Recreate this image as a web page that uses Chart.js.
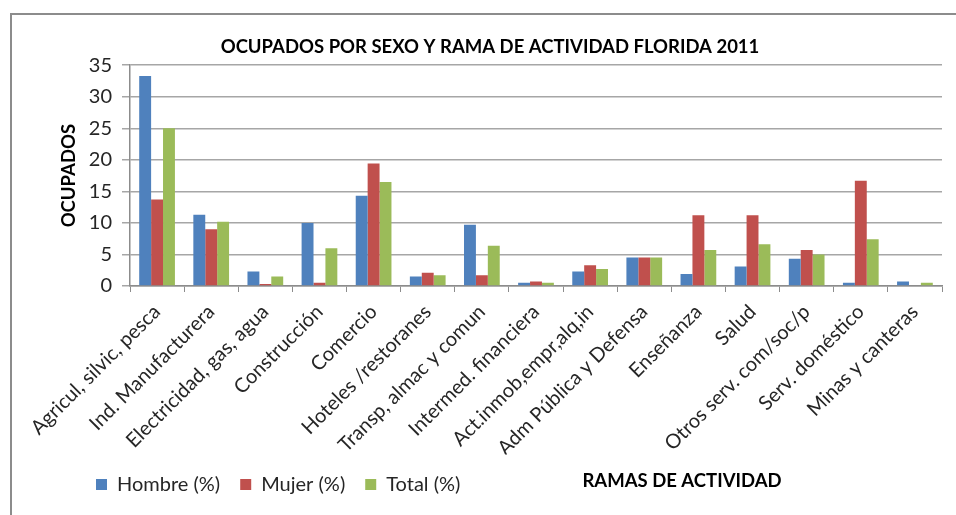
<!DOCTYPE html>
<html>
<head>
<meta charset="utf-8">
<title>Ocupados por sexo y rama de actividad</title>
<script src="https://cdn.jsdelivr.net/npm/chart.js@4.4.1/dist/chart.umd.min.js"></script>
<style>
  html, body { margin: 0; padding: 0; background: #fff; overflow: hidden; }
  #frame {
    position: absolute; left: 10px; top: 13px;
    width: 980px; height: 540px;
    border: 2px solid #8c8c8c; box-sizing: border-box;
  }
  #wrap { position: absolute; left: 12px; top: 16px; width: 956px; height: 520px; }
</style>
</head>
<body>
<div id="frame"></div>
<div id="wrap"><canvas id="chart"></canvas></div>
<script>
const ramas = [
  'Agricul, silvic, pesca', 'Ind. Manufacturera', 'Electricidad, gas, agua',
  'Construcción', 'Comercio', 'Hoteles /restoranes', 'Transp, almac y comun',
  'Intermed. financiera', 'Act.inmob,empr,alq,in', 'Adm Pública y Defensa',
  'Enseñanza', 'Salud', 'Otros serv. com/soc/p', 'Serv. doméstico', 'Minas y canteras'
];
const hombre = [33.3, 11.3, 2.3, 10.0, 14.3, 1.5, 9.7, 0.5, 2.3, 4.5, 1.9, 3.1, 4.3, 0.5, 0.7];
const mujer  = [13.7, 9.0, 0.3, 0.5, 19.4, 2.1, 1.7, 0.7, 3.3, 4.5, 11.2, 11.2, 5.7, 16.7, 0];
const total  = [25.0, 10.2, 1.5, 6.0, 16.5, 1.7, 6.4, 0.5, 2.7, 4.5, 5.7, 6.6, 5.0, 7.4, 0.5];
const yTicks = [0, 5, 10, 15, 20, 25, 30, 35];

const FONT = 'Lato, "Noto Sans", sans-serif';
const gridColor = '#a6a6a6';
const axisColor = '#8c8c8c';

// x axis title sits on the legend row, right of the legend
const ramasTitle = {
  id: 'ramasTitle',
  afterLayout(chart) {
    // push the legend to the right like in the original
    const lg = chart.legend;
    lg.left += 38;
    lg.right += 38;
  },
  afterDraw(chart) {
    const ctx = chart.ctx;
    const a = chart.chartArea;
    ctx.save();
    ctx.font = 'bold 18.5px ' + FONT;
    ctx.fillStyle = '#000';
    ctx.textAlign = 'center';
    ctx.textBaseline = 'middle';
    ctx.fillText('RAMAS DE ACTIVIDAD', a.left + 552, a.bottom + 195);
    ctx.restore();
  }
};

new Chart(document.getElementById('chart'), {
  type: 'bar',
  data: {
    labels: ramas,
    datasets: [
      { label: 'Hombre (%)', data: hombre, backgroundColor: '#4f81bd' },
      { label: 'Mujer (%)', data: mujer, backgroundColor: '#c0504d' },
      { label: 'Total (%)', data: total, backgroundColor: '#9bbb59' }
    ]
  },
  options: {
    responsive: true,
    maintainAspectRatio: false,
    animation: false,
    layout: { padding: { left: 26, right: 26, top: 0, bottom: 31.5 } },
    datasets: { bar: { categoryPercentage: 0.66, barPercentage: 1.0 } },
    plugins: {
      title: {
        display: true,
        text: 'OCUPADOS POR SEXO Y RAMA DE ACTIVIDAD FLORIDA 2011',
        color: '#000',
        font: { family: FONT, size: 18.5, weight: 'bold' },
        padding: { top: 20, bottom: 7 }
      },
      legend: {
        position: 'bottom',
        align: 'start',
        labels: {
          color: '#262626',
          font: { family: FONT, size: 20 },
          boxWidth: 11,
          boxHeight: 11,
          padding: 20
        }
      },
      tooltip: { enabled: false }
    },
    scales: {
      x: {
        grid: { display: true, drawOnChartArea: false, drawTicks: true, tickLength: 6, color: axisColor, offset: true },
        border: { display: true, color: axisColor, width: 1.5 },
        ticks: {
          color: '#262626',
          font: { family: FONT, size: 20 },
          maxRotation: 45, minRotation: 45,
          autoSkip: false,
          padding: 8
        },
        afterFit(scale) { scale.height = 168.5; }
      },
      y: {
        min: 0, max: 35,
        afterBuildTicks(scale) { scale.ticks = yTicks.map(v => ({ value: v })); },
        grid: { color: gridColor, lineWidth: 1.5, tickLength: 8 },
        border: { display: true, color: axisColor, width: 1.5 },
        ticks: {
          color: '#262626',
          font: { family: FONT, size: 20 },
          padding: 10
        },
        title: {
          display: true,
          text: 'OCUPADOS',
          color: '#000',
          font: { family: FONT, size: 18.5, weight: 'bold' },
          padding: { top: 20, bottom: 0 }
        },
        afterFit(scale) { scale.width = 92; }
      }
    }
  },
  plugins: [ramasTitle]
});
</script>
</body>
</html>
